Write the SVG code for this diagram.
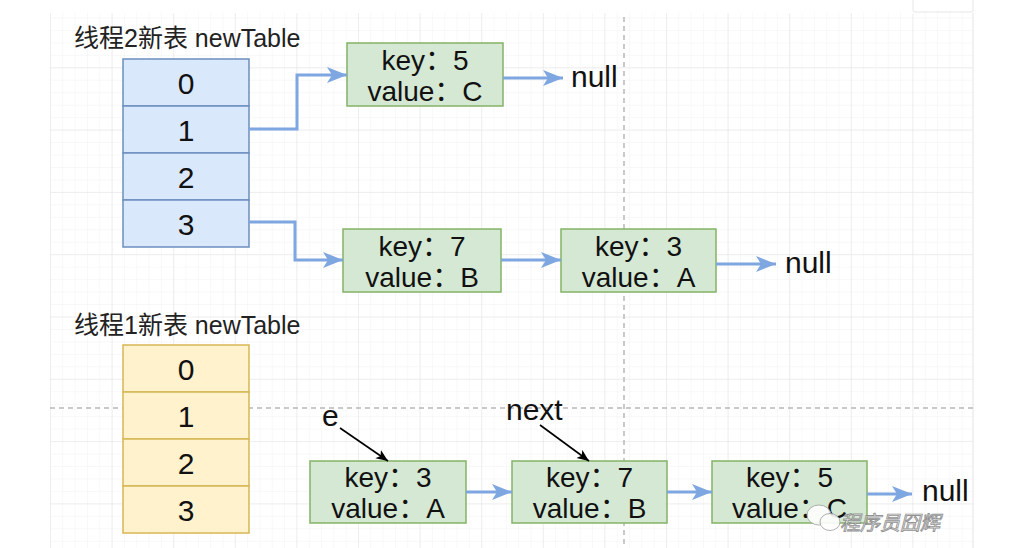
<svg xmlns="http://www.w3.org/2000/svg" width="1030" height="548" viewBox="0 0 1030 548">
<defs>
<pattern id="minor" x="50" y="5" width="12.32" height="12.46" patternUnits="userSpaceOnUse">
<path d="M0,0 V12.46 M0,0 H12.32" fill="none" stroke="#f2f2f2" stroke-width="1"/>
</pattern>
<pattern id="major" x="50" y="5" width="61.6" height="62.3" patternUnits="userSpaceOnUse">
<path d="M0,0 V62.3 M0,0 H61.6" fill="none" stroke="#e4e4e4" stroke-width="1"/>
</pattern>
<marker id="blueArrow" markerUnits="userSpaceOnUse" markerWidth="22" markerHeight="18" refX="20" refY="8" orient="auto">
<path d="M0,0 L20,8 L0,16 L5,8 Z" fill="#7ea6e0"/>
</marker>
<marker id="blackArrow" markerUnits="userSpaceOnUse" markerWidth="14" markerHeight="12" refX="12" refY="5" orient="auto">
<path d="M0,0 L12,5 L0,10 L3,5 Z" fill="#000"/>
</marker>
</defs>
<style>
.cellB{fill:#dae8fc;stroke:#6c8ebf;stroke-width:1.5}
.cellY{fill:#fff2cc;stroke:#d6b656;stroke-width:1.5}
.node{fill:#d5e8d4;stroke:#82b366;stroke-width:1.5}
.t{font-family:"Liberation Sans","Noto Sans CJK SC",Arial,sans-serif;fill:#111}
.num{font-size:30px;text-anchor:middle}
.kv{font-size:28px;text-anchor:middle}
.title{font-size:25px;fill:#222}
.lbl{font-size:30px}
.conn{fill:none;stroke:#7ea6e0;stroke-width:3;marker-end:url(#blueArrow)}
.ptr{fill:none;stroke:#000;stroke-width:1.6;marker-end:url(#blackArrow)}
.dash{fill:none;stroke:#b8b8b8;stroke-width:1.5;stroke-dasharray:5 4}
</style>
<rect width="1030" height="548" fill="#fff"/>
<g id="grid">
<rect x="50" y="13" width="923" height="535" fill="url(#minor)"/>
<rect x="50" y="13" width="923" height="535" fill="url(#major)"/>
<line x1="973" y1="13" x2="973" y2="548" stroke="#e4e4e4"/>
<line class="dash" x1="624" y1="17" x2="624" y2="548"/>
<line class="dash" x1="50" y1="408" x2="973" y2="408"/>
</g>
<g id="collect-button">
<rect x="913" y="-6" width="60" height="18" rx="2" fill="#fff" stroke="#e6e6e6"/>
</g>
<g id="table2">
<text class="t title" x="74" y="47">线程2新表 newTable</text>
<rect class="cellB" x="123" y="59" width="126" height="47"/>
<rect class="cellB" x="123" y="106" width="126" height="47"/>
<rect class="cellB" x="123" y="153" width="126" height="47"/>
<rect class="cellB" x="123" y="200" width="126" height="47"/>
<text class="t num" x="186" y="93.5">0</text>
<text class="t num" x="186" y="140.5">1</text>
<text class="t num" x="186" y="187.5">2</text>
<text class="t num" x="186" y="234.5">3</text>
</g>
<g id="table1">
<text class="t title" x="74" y="334">线程1新表 newTable</text>
<rect class="cellY" x="123" y="345" width="126" height="47"/>
<rect class="cellY" x="123" y="392" width="126" height="47"/>
<rect class="cellY" x="123" y="439" width="126" height="47"/>
<rect class="cellY" x="123" y="486" width="126" height="47"/>
<text class="t num" x="186" y="379.5">0</text>
<text class="t num" x="186" y="426.5">1</text>
<text class="t num" x="186" y="473.5">2</text>
<text class="t num" x="186" y="520.5">3</text>
</g>
<g id="n2-k5">
<rect class="node" x="347" y="43" width="156" height="63"/>
<text class="t kv" x="425" y="70">key：5</text>
<text class="t kv" x="425" y="101">value：C</text>
</g>
<g id="n2-k7">
<rect class="node" x="343" y="229" width="158" height="63"/>
<text class="t kv" x="422" y="256">key：7</text>
<text class="t kv" x="422" y="287">value：B</text>
</g>
<g id="n2-k3">
<rect class="node" x="561" y="229" width="155" height="63"/>
<text class="t kv" x="638.5" y="256">key：3</text>
<text class="t kv" x="638.5" y="287">value：A</text>
</g>
<g id="n1-k3">
<rect class="node" x="310" y="461" width="156" height="62"/>
<text class="t kv" x="388" y="487">key：3</text>
<text class="t kv" x="388" y="518">value：A</text>
</g>
<g id="n1-k7">
<rect class="node" x="512" y="461" width="155" height="62"/>
<text class="t kv" x="589.5" y="487">key：7</text>
<text class="t kv" x="589.5" y="518">value：B</text>
</g>
<g id="n1-k5">
<rect class="node" x="712" y="461" width="155" height="62"/>
<text class="t kv" x="789.5" y="487">key：5</text>
<text class="t kv" x="789.5" y="518">value：C</text>
</g>
<g id="labels">
<text class="t lbl" x="571" y="87">null</text>
<text class="t lbl" x="785" y="273">null</text>
<text class="t lbl" x="922" y="501">null</text>
<text class="t lbl" x="322" y="426">e</text>
<text class="t lbl" x="506" y="420">next</text>
</g>
<g id="connectors">
<path class="conn" d="M249,129 H297 V75 H347"/>
<path class="conn" d="M249,222 H295 V260 H343"/>
<path class="conn" d="M503,78 H563"/>
<path class="conn" d="M501,260 H561"/>
<path class="conn" d="M716,264 H776"/>
<path class="conn" d="M466,492 H512"/>
<path class="conn" d="M667,492 H712"/>
<path class="conn" d="M867,494 H912"/>
<path class="ptr" d="M340,428 L388,461"/>
<path class="ptr" d="M540,425 L589,461"/>
</g>
<g id="watermark" opacity="0.9">
<ellipse cx="819" cy="515" rx="12" ry="10" fill="#fff" stroke="#aaa" stroke-width="1"/>
<ellipse cx="830" cy="522" rx="10" ry="8.5" fill="#fff" stroke="#aaa" stroke-width="1"/>
<text x="840" y="530" font-family="'Noto Sans CJK SC',sans-serif" font-size="20" font-style="italic" fill="#fff" stroke="#888" stroke-width="0.9">程序员囧辉</text>
</g>
</svg>
